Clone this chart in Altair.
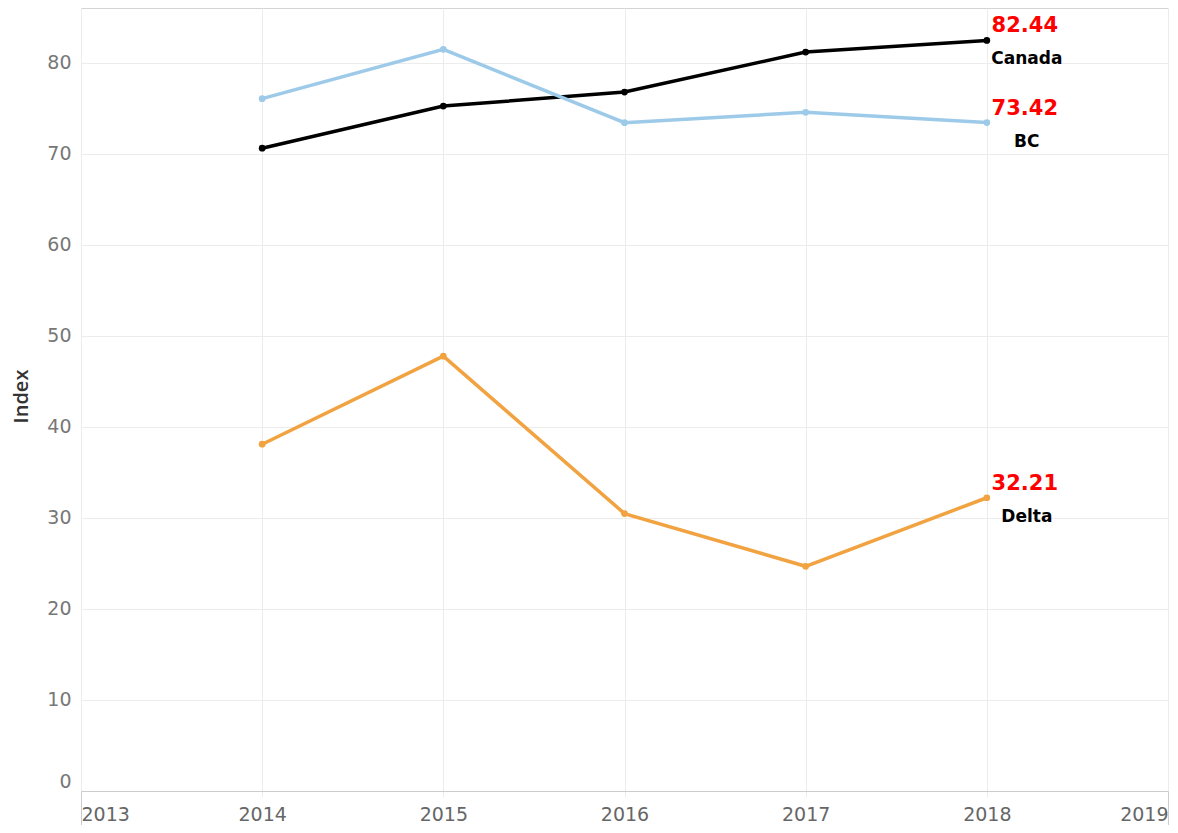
import altair as alt
import pandas as pd

years = [2014, 2015, 2016, 2017, 2018]
canada = [70.6, 75.23, 76.77, 81.16, 82.44]
bc = [76.04, 81.46, 73.4, 74.54, 73.42]
delta = [38.09, 47.76, 30.47, 24.68, 32.21]
series_names = ["Canada", "BC", "Delta"]
series_colors = ["#000000", "#9DCAE8", "#F2A341"]
x_ticks = [2013, 2014, 2015, 2016, 2017, 2018, 2019]
y_ticks = [0, 10, 20, 30, 40, 50, 60, 70, 80]

rows = []
for name, vals in zip(series_names, [canada, bc, delta]):
    for yr, v in zip(years, vals):
        rows.append({"Year": yr, "Index": v, "Region": name})
df = pd.DataFrame(rows)

W, H = 1087, 783
FONT = "DejaVu Sans"
EDGE = "datum.value == 2013 || datum.value == 2019"

x = alt.X(
    "Year:Q",
    scale=alt.Scale(domain=[2013, 2019], nice=False, zero=False),
    axis=alt.Axis(
        values=x_ticks, format="d", title=None, labelFlush=True,
        labelFont=FONT, labelFontSize=19, labelColor="#666666",
        labelPadding={"condition": {"test": EDGE, "value": -28}, "value": 8},
        grid=True, gridColor="#ececec", gridWidth=1,
        domainColor="#cccccc", domainWidth=1,
        tickColor={"condition": {"test": EDGE, "value": "#cccccc"}, "value": "#ececec"},
        tickSize={"condition": {"test": EDGE, "value": 42}, "value": 6},
    ),
)
y = alt.Y(
    "Index:Q",
    scale=alt.Scale(domain=[0, 86.0], nice=False),
    axis=alt.Axis(
        values=y_ticks, title="Index", labelFlush=True, labelFlushOffset=0,
        labelFont=FONT, labelFontSize=19, labelColor="#777777", labelPadding=10,
        ticks=False, domain=False, grid=True, gridColor="#ececec", gridWidth=1,
        titleFont="Open Sans", titleFontSize=20, titleFontWeight=600, titleColor="#333333",
        titleX=-60, titleY=388, titleAngle=270, titleAlign="center", titleBaseline="middle",
    ),
)
color = alt.Color(
    "Region:N",
    scale=alt.Scale(domain=series_names, range=series_colors),
    legend=None,
)

base = alt.Chart(df)
lines = base.mark_line(strokeWidth=3.5).encode(x=x, y=y, color=color, detail="Region:N")
points = base.mark_point(filled=True, size=45, opacity=1).encode(x=x, y=y, color=color)

last = base.transform_filter(alt.datum.Year == 2018)
val_labels = last.mark_text(
    font=FONT, fontSize=21, fontWeight="bold", color="#ff0000", dx=38, dy=-14
).encode(x=x, y=y, text=alt.Text("Index:Q", format=".2f"))
name_labels = last.mark_text(
    font=FONT, fontSize=17, fontWeight="bold", color="#000000", dx=40, dy=19
).encode(x=x, y=y, text="Region:N")

chart = alt.layer(lines, points, val_labels, name_labels).properties(
    width=W, height=H,
    autosize=alt.AutoSizeParams(type="none"),
    padding={"left": 73, "top": 0, "right": 2, "bottom": 34},
).configure_view(stroke="#d4d4d4", strokeWidth=1)

chart.save("out.html", embed_options={"renderer": "svg", "actions": False})
